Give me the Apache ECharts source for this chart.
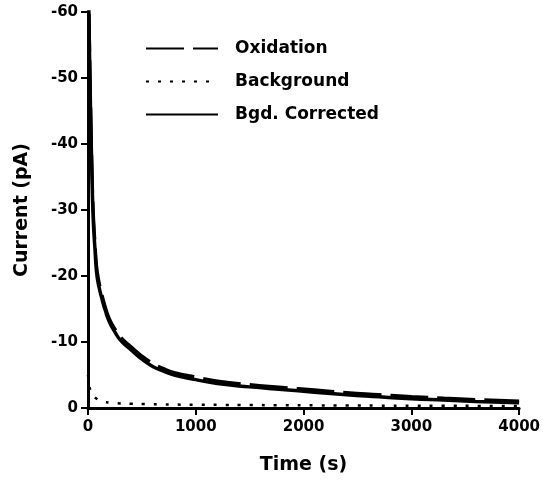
<!DOCTYPE html>
<html>
<head>
<meta charset="utf-8">
<script src="https://cdn.jsdelivr.net/npm/echarts@6/dist/echarts.min.js"></script>
<style>
  html, body { margin: 0; padding: 0; background: #fff; }
  #main { width: 543px; height: 480px; }
</style>
</head>
<body>
<div id="main"></div>
<script>
// time points (s)
var timeS = [0, 10, 20, 30, 40, 50, 65, 80, 100, 130, 160, 200, 250, 300, 400, 500, 600, 700, 800, 1000, 1200, 1500, 1800, 2100, 2400, 2700, 3000, 3300, 3600, 4000];
// current (pA)
var oxidation = [-74, -60.5, -50.5, -42, -34.8, -29.6, -25.2, -21.6, -19.4, -17.2, -15.4, -13.5, -12, -10.8, -9.3, -7.9, -6.8, -6.0, -5.4, -4.7, -4.1, -3.55, -3.15, -2.75, -2.35, -2.05, -1.75, -1.5, -1.3, -1.05];
var background = [-5, -3.5, -2.8, -2.4, -2.1, -1.9, -1.6, -1.4, -1.2, -1.0, -0.9, -0.8, -0.75, -0.7, -0.65, -0.6, -0.58, -0.55, -0.52, -0.5, -0.48, -0.45, -0.42, -0.4, -0.38, -0.36, -0.35, -0.33, -0.32, -0.3];
var corrected = [-70, -58, -48, -40, -33, -28, -24, -20.5, -18.5, -16.5, -14.8, -13, -11.5, -10.3, -8.8, -7.4, -6.3, -5.6, -5.0, -4.3, -3.7, -3.2, -2.8, -2.4, -2.0, -1.7, -1.4, -1.2, -1.0, -0.8];

function pairs(vals) {
    return timeS.map(function(t, i) { return [t, vals[i]]; });
}

var chart = echarts.init(document.getElementById('main'));
var font = 'DejaVu Sans, Liberation Sans, sans-serif';

chart.setOption({
    animation: false,
    backgroundColor: '#fff',
    grid: {left: 88, top: 12, right: 20, bottom: 68},
    legend: {
        orient: 'vertical',
        left: 140,
        top: 35,
        itemWidth: 72,
        itemHeight: 14,
        itemGap: 16,
        itemStyle: {opacity: 0},
        textStyle: {fontFamily: font, fontWeight: 'bold', fontSize: 17, color: '#000', padding: [0, 0, 0, 12]},
        data: ['Oxidation', 'Background', 'Bgd. Corrected']
    },
    xAxis: {
        type: 'value',
        min: 0,
        max: 4000,
        interval: 1000,
        name: 'Time (s)',
        nameLocation: 'middle',
        nameGap: 48,
        nameTextStyle: {fontFamily: font, fontWeight: 'bold', fontSize: 19, color: '#000'},
        axisLine: {lineStyle: {color: '#000', width: 3}},
        axisTick: {show: true, length: 7, lineStyle: {color: '#000', width: 2}},
        axisLabel: {fontFamily: font, fontWeight: 'bold', fontSize: 15, color: '#000', margin: 12,
            formatter: function(v) { return String(v); }},
        splitLine: {show: false}
    },
    yAxis: {
        type: 'value',
        inverse: true,
        min: -60,
        max: 0,
        interval: 10,
        name: 'Current (pA)',
        nameLocation: 'middle',
        nameGap: 56,
        nameRotate: 90,
        nameTextStyle: {fontFamily: font, fontWeight: 'bold', fontSize: 19, color: '#000'},
        axisLine: {show: true, lineStyle: {color: '#000', width: 3}},
        axisTick: {show: true, length: 7, lineStyle: {color: '#000', width: 2}},
        axisLabel: {fontFamily: font, fontWeight: 'bold', fontSize: 15, color: '#000', margin: 10},
        splitLine: {show: false}
    },
    series: [
        {
            name: 'Oxidation',
            type: 'line',
            symbol: 'none',
            smooth: true,
            data: pairs(oxidation),
            lineStyle: {color: '#000', width: 3, type: [38, 9]},
            itemStyle: {color: '#000'}
        },
        {
            name: 'Background',
            type: 'line',
            symbol: 'none',
            smooth: true,
            data: pairs(background),
            lineStyle: {color: '#000', width: 2.5, type: [3, 9]},
            itemStyle: {color: '#000'}
        },
        {
            name: 'Bgd. Corrected',
            type: 'line',
            symbol: 'none',
            smooth: true,
            data: pairs(corrected),
            lineStyle: {color: '#000', width: 3.5},
            itemStyle: {color: '#000'}
        }
    ]
});
</script>
</body>
</html>
